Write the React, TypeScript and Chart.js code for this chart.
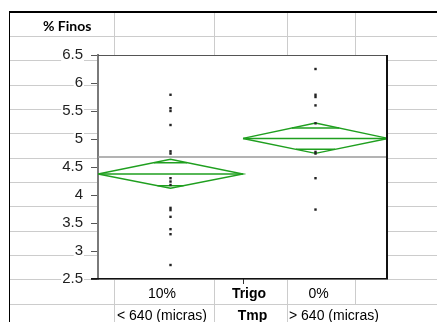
import React, { useEffect, useRef } from "react";
import { Chart, registerables } from "chart.js";

Chart.register(...registerables);

// ---- data ----
const groups = ["10%", "0%"];
const groupPositions = [0.5, 1.5];
const group1Values = [5.79, 5.55, 5.5, 5.25, 4.78, 4.74, 4.3, 4.24, 4.18, 3.77, 3.73, 3.61, 3.39, 3.3, 2.75];
const group2Values = [6.25, 5.79, 5.75, 5.6, 5.28, 4.77, 4.74, 4.3, 3.74];
const groupMeans = [4.375, 5.01];
const ciUpper = [4.637, 5.286];
const ciLower = [4.12, 4.744];
const overlapUpper = [4.577, 5.196];
const overlapLower = [4.166, 4.816];
const grandMean = 4.68;
const yTicks = [2.5, 3, 3.5, 4, 4.5, 5, 5.5, 6, 6.5];

const GREEN = "#1f9f1f";
const FONT = "'Liberation Sans', Arial, sans-serif";

function buildDatasets() {
  const ds: any[] = [];
  const groupValues = [group1Values, group2Values];
  groupValues.forEach((vals, g) => {
    ds.push({
      label: groups[g] + " pts",
      data: vals.map((v) => ({ x: groupPositions[g], y: v })),
      showLine: false,
      pointStyle: "rect",
      pointRadius: 1.7,
      pointBorderWidth: 0,
      pointBackgroundColor: "#222",
      pointBorderColor: "#222",
    });
  });
  groupMeans.forEach((m, g) => {
    const c = groupPositions[g];
    const line = (data: any[]) => ({
      data,
      showLine: true,
      borderColor: GREEN,
      borderWidth: 1.4,
      pointRadius: 0,
      fill: false,
      tension: 0,
    });
    ds.push(
      line([
        { x: c - 0.5, y: m },
        { x: c, y: ciUpper[g] },
        { x: c + 0.5, y: m },
        { x: c, y: ciLower[g] },
        { x: c - 0.5, y: m },
      ])
    );
    ds.push(line([{ x: c - 0.5, y: m }, { x: c + 0.5, y: m }]));
    const hu = 0.5 * (1 - (overlapUpper[g] - m) / (ciUpper[g] - m));
    ds.push(line([{ x: c - hu, y: overlapUpper[g] }, { x: c + hu, y: overlapUpper[g] }]));
    const hl = 0.5 * (1 - (m - overlapLower[g]) / (m - ciLower[g]));
    ds.push(line([{ x: c - hl, y: overlapLower[g] }, { x: c + hl, y: overlapLower[g] }]));
  });
  ds.push({
    data: [
      { x: 0, y: grandMean },
      { x: 2, y: grandMean },
    ],
    showLine: true,
    borderColor: "#9a9a9a",
    borderWidth: 1.5,
    pointRadius: 0,
  });
  return ds;
}

const plotFrame = {
  id: "plotFrame",
  beforeDraw(chart: any) {
    const { ctx, chartArea: a } = chart;
    ctx.save();
    ctx.fillStyle = "#fff";
    ctx.fillRect(a.left, a.top, a.right - a.left, a.bottom - a.top);
    ctx.restore();
  },
  afterDraw(chart: any) {
    const { ctx, chartArea: a } = chart;
    ctx.save();
    ctx.strokeStyle = "#555";
    ctx.lineWidth = 1;
    ctx.beginPath();
    ctx.moveTo(a.left, a.top + 0.5);
    ctx.lineTo(a.right, a.top + 0.5);
    ctx.stroke();
    ctx.strokeStyle = "#111";
    ctx.lineWidth = 2;
    ctx.beginPath();
    ctx.moveTo(a.right - 1, a.top);
    ctx.lineTo(a.right - 1, a.bottom);
    ctx.stroke();
    ctx.lineWidth = 1.5;
    ctx.beginPath();
    ctx.moveTo(a.left - 7, a.bottom - 0.25);
    ctx.lineTo(a.right, a.bottom - 0.25);
    ctx.stroke();
    ctx.restore();
  },
};

const rowLines = Array.from({ length: 12 }, (_, k) => Math.round(36 + 24.32 * k));

function Sheet() {
  const els: any[] = [];
  rowLines.forEach((y, i) =>
    els.push(
      <div key={"r" + i} style={{ position: "absolute", left: 9, top: y, width: 428, height: 1, background: "#cccccc" }} />
    )
  );
  [114, 214, 287].forEach((x, i) =>
    els.push(
      <div key={"c" + i} style={{ position: "absolute", left: x, top: 12, width: 1, height: 310, background: "#cccccc" }} />
    )
  );
  els.push(<div key="c355" style={{ position: "absolute", left: 355, top: 12, width: 1, height: 292, background: "#cccccc" }} />);
  els.push(<div key="top" style={{ position: "absolute", left: 9, top: 11, width: 428, height: 2, background: "#000", zIndex: 3 }} />);
  els.push(<div key="left" style={{ position: "absolute", left: 9, top: 11, width: 1, height: 311, background: "#000", zIndex: 3 }} />);
  return <>{els}</>;
}

function Txt(props: { x: number; top: number; w?: number; center?: boolean; bold?: boolean; family?: string; size?: number; children: any }) {
  const w = props.w ?? 120;
  return (
    <div
      style={{
        position: "absolute",
        left: props.center ? props.x - w / 2 : props.x,
        top: props.top,
        width: w,
        textAlign: props.center ? "center" : "left",
        fontFamily: props.family ?? FONT,
        fontSize: props.size ?? 14,
        lineHeight: "14px",
        fontWeight: props.bold ? 700 : 400,
        color: "#000",
        whiteSpace: "nowrap",
        zIndex: 2,
      }}
    >
      {props.children}
    </div>
  );
}

export default function App() {
  const ref = useRef<HTMLCanvasElement | null>(null);
  useEffect(() => {
    if (!ref.current) return;
    const chart = new Chart(ref.current, {
      type: "scatter",
      data: { datasets: buildDatasets() },
      plugins: [plotFrame],
      options: {
        animation: false,
        responsive: false,
        devicePixelRatio: 1,
        layout: { padding: { top: 55, right: 49, left: 0, bottom: 0 } },
        plugins: { legend: { display: false }, tooltip: { enabled: false } },
        elements: { line: { tension: 0 } },
        scales: {
          x: {
            type: "linear",
            min: 0,
            max: 2,
            position: "bottom",
            afterBuildTicks: (s: any) => {
              s.ticks = [{ value: 1 }];
            },
            afterFit: (s: any) => {
              s.height = 43;
            },
            grid: { drawOnChartArea: false, tickLength: 5, color: "#333", lineWidth: 1 },
            border: { display: false },
            ticks: { display: false },
          },
          y: {
            type: "linear",
            min: 2.5,
            max: 6.5,
            afterBuildTicks: (s: any) => {
              s.ticks = yTicks.map((v) => ({ value: v }));
            },
            afterFit: (s: any) => {
              s.width = 98;
            },
            grid: { drawOnChartArea: false, tickLength: 7, color: "#555", lineWidth: 1 },
            border: { display: true, color: "#7a7a7a", width: 2 },
            ticks: {
              padding: 8,
              color: "#222",
              font: { family: FONT, size: 15, lineHeight: 0.8 },
              showLabelBackdrop: true,
              backdropColor: "#fff",
              backdropPadding: { x: 1, y: 0 },
              callback: (v: any) => String(v),
            },
          },
        },
      } as any,
    });
    return () => chart.destroy();
  }, []);

  return (
    <div style={{ position: "absolute", left: 0, top: 0, width: 437, height: 322, overflow: "hidden", background: "#fff" }}>
      <Sheet />
      <canvas ref={ref} width={437} height={322} style={{ position: "absolute", left: 0, top: 0, zIndex: 1 }} />
      <Txt x={43} top={19} bold family="Lato, 'Open Sans', sans-serif" size={14}>% Finos</Txt>
      <Txt x={162} top={286} center w={80}>10%</Txt>
      <Txt x={249} top={286} center w={70} bold>Trigo</Txt>
      <Txt x={318.5} top={286} center w={60}>0%</Txt>
      <Txt x={117} top={308}>&lt; 640 (micras)</Txt>
      <Txt x={252.5} top={308} center w={60} bold>Tmp</Txt>
      <Txt x={289} top={308}>&gt; 640 (micras)</Txt>
    </div>
  );
}
